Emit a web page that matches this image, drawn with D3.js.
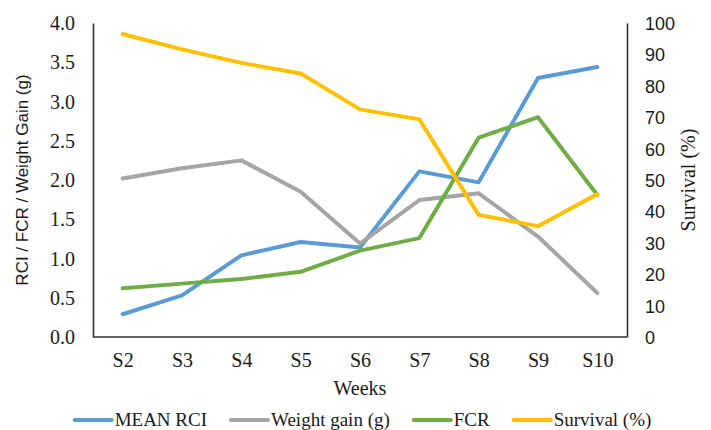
<!DOCTYPE html>
<html>
<head>
<meta charset="utf-8">
<script src="https://cdn.jsdelivr.net/npm/d3@7"></script>
<style>
  html, body { margin: 0; padding: 0; background: #ffffff; }
  svg { display: block; }
  .serif { font-family: "Liberation Serif", "Times New Roman", serif; }
  .sans { font-family: "Liberation Sans", Arial, sans-serif; }
</style>
</head>
<body>
<svg id="chart" width="711" height="430"></svg>
<script>
// Sampling weeks
const weeks = ["S2", "S3", "S4", "S5", "S6", "S7", "S8", "S9", "S10"];

// Series on the left axis
const meanRCI    = [0.29, 0.53, 1.04, 1.21, 1.14, 2.11, 1.97, 3.30, 3.44];
const weightGain = [2.02, 2.15, 2.25, 1.85, 1.19, 1.745, 1.83, 1.28, 0.56];
const fcr        = [0.62, 0.68, 0.74, 0.83, 1.10, 1.26, 2.54, 2.80, 1.81];

// Series on the right axis
const survival   = [96.5, 91.6, 87.3, 83.9, 72.5, 69.3, 38.9, 35.3, 45.5];

// Axis ticks
const leftTicks  = [0, 0.5, 1.0, 1.5, 2.0, 2.5, 3.0, 3.5, 4.0];
const rightTicks = [0, 10, 20, 30, 40, 50, 60, 70, 80, 90, 100];

const seriesNames  = ["MEAN RCI", "Weight gain (g)", "FCR", "Survival (%)"];
const seriesColors = ["#5B9BD5", "#A5A5A5", "#70AD47", "#FFC000"];

const svg = d3.select("#chart");
const plot = { left: 93, right: 627, top: 23, bottom: 337 };
const ink = "#1a1a1a";

const x = d3.scalePoint().domain(weeks).range([plot.left, plot.right]).padding(0.5);
const yL = d3.scaleLinear().domain([0, 4]).range([plot.bottom, plot.top]);
const yR = d3.scaleLinear().domain([0, 100]).range([plot.bottom, plot.top]);

// Lines
const series = [
  { values: meanRCI, scale: yL },
  { values: weightGain, scale: yL },
  { values: fcr, scale: yL },
  { values: survival, scale: yR }
];

series.forEach((s, i) => {
  const line = d3.line()
    .x((d, j) => x(weeks[j]))
    .y(d => s.scale(d));
  svg.append("path")
    .datum(s.values)
    .attr("fill", "none")
    .attr("stroke", seriesColors[i])
    .attr("stroke-width", 4)
    .attr("stroke-linejoin", "round")
    .attr("stroke-linecap", "round")
    .attr("d", line);
});

// Left axis
const gL = svg.append("g")
  .attr("transform", `translate(${plot.left},0)`)
  .call(d3.axisLeft(yL).tickValues(leftTicks).tickFormat(d3.format(".1f")).tickSize(0).tickPadding(18))
  .attr("font-family", null);
gL.select(".domain").attr("stroke", "#333").attr("stroke-width", 1.6);
gL.selectAll("text").attr("class", "serif").style("font-size", "20px").attr("fill", ink).attr("dy", "0.33em");

// Right axis
const gR = svg.append("g")
  .attr("transform", `translate(${plot.right},0)`)
  .call(d3.axisRight(yR).tickValues(rightTicks).tickFormat(d3.format("d")).tickSize(0).tickPadding(18))
  .attr("font-family", null);
gR.select(".domain").attr("stroke", "#333").attr("stroke-width", 1.6);
gR.selectAll("text").attr("class", "sans").style("font-size", "18px").attr("fill", ink).attr("dy", "0.36em");

// Bottom axis
const gB = svg.append("g")
  .attr("transform", `translate(0,${plot.bottom})`)
  .call(d3.axisBottom(x).tickSize(0))
  .attr("font-family", null);
gB.select(".domain").attr("stroke", "#333").attr("stroke-width", 1.6)
  .attr("d", `M${plot.left},0H${plot.right}`);
gB.selectAll("text").attr("class", "serif").style("font-size", "20px").attr("fill", ink)
  .attr("dy", null).attr("y", 30);

// Axis titles
svg.append("text")
  .attr("class", "sans")
  .attr("transform", `translate(28,${(plot.top + plot.bottom) / 2}) rotate(-90)`)
  .attr("text-anchor", "middle")
  .style("font-size", "17px").attr("fill", ink)
  .text("RCI / FCR / Weight Gain (g)");

svg.append("text")
  .attr("class", "serif")
  .attr("transform", `translate(695,${(plot.top + plot.bottom) / 2}) rotate(-90)`)
  .attr("text-anchor", "middle")
  .style("font-size", "20px").attr("fill", ink)
  .text("Survival (%)");

svg.append("text")
  .attr("class", "serif")
  .attr("x", (plot.left + plot.right) / 2).attr("y", 395)
  .attr("text-anchor", "middle")
  .style("font-size", "20px").attr("fill", ink)
  .text("Weeks");

// Legend
const legend = svg.append("g");
const swatch = 37, swatchGap = 3, itemGap = 24, legendY = 420;
const items = seriesNames.map((name, i) => {
  const g = legend.append("g");
  g.append("line")
    .attr("x1", 0).attr("x2", swatch).attr("y1", legendY).attr("y2", legendY)
    .attr("stroke", seriesColors[i]).attr("stroke-width", 4).attr("stroke-linecap", "round");
  const t = g.append("text")
    .attr("class", "serif")
    .attr("x", swatch + swatchGap).attr("y", legendY + 6)
    .style("font-size", "19px").attr("fill", ink)
    .text(name);
  return { g, width: swatch + swatchGap + t.node().getComputedTextLength() };
});
const total = d3.sum(items, d => d.width) + itemGap * (items.length - 1);
let cx = 363 - total / 2;
items.forEach(it => {
  it.g.attr("transform", `translate(${cx},0)`);
  cx += it.width + itemGap;
});
</script>
</body>
</html>
